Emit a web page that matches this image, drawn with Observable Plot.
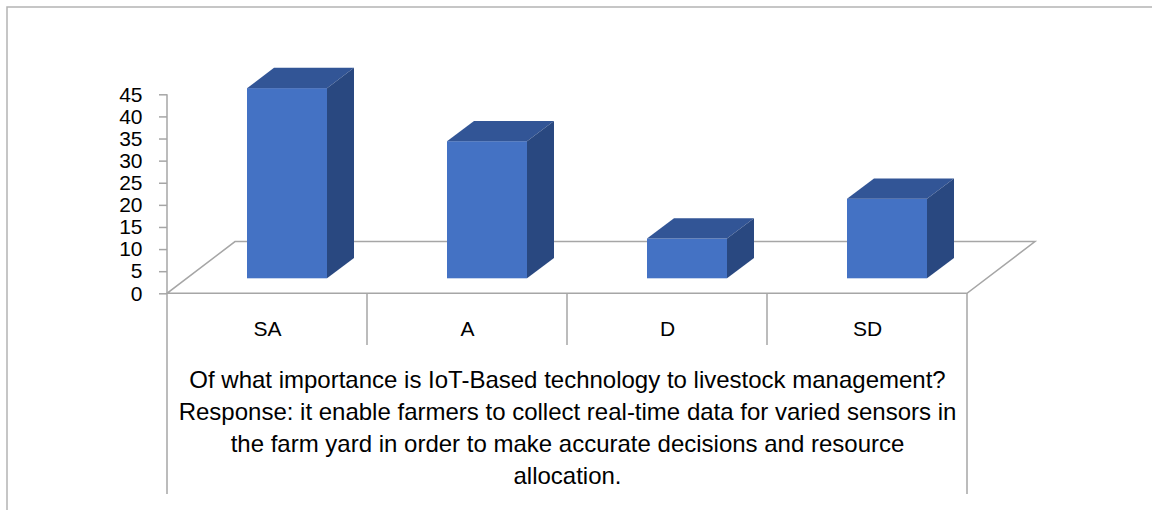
<!DOCTYPE html>
<html>
<head>
<meta charset="utf-8">
<script src="https://cdn.jsdelivr.net/npm/d3@7"></script>
<script src="https://cdn.jsdelivr.net/npm/@observablehq/plot@0.6"></script>
<style>
  html, body { margin: 0; padding: 0; background: #ffffff; }
  #chart svg { display: block; }
</style>
</head>
<body>
<div id="chart"></div>
<script>
// ---- data ----
const categories = ["SA", "A", "D", "SD"];
const values = [43, 31, 9, 18];
const yTicks = [0, 5, 10, 15, 20, 25, 30, 35, 40, 45];
const captionLines = [
  "Of what importance is IoT-Based technology to livestock management?",
  "Response: it enable farmers to collect real-time data for varied sensors in",
  "the farm yard in order to make accurate decisions and resource",
  "allocation."
];

const data = categories.map((c, i) => ({category: c, value: values[i]}));

// ---- styling / geometry constants ----
const FONT = "Liberation Sans, Arial, sans-serif";
const GRID = "#a6a6a6";
const FRONT = "#4472C4", TOP = "#325596", SIDE = "#294880";
const floorDX = 68, floorDY = -51.7;      // floor depth offset
const barShiftX = 20, barShiftY = -15;    // bar front position within floor depth
const barDX = 27, barDY = -20.3;          // bar depth
const inset = 60;

function bandOf(x) {
  return typeof x.bandwidth === "function" ? x.bandwidth() : (x(categories[1]) - x(categories[0]));
}

// background: outer border, floor, axis line, category separators
function background(index, scales) {
  const {x, y} = scales;
  const bw = bandOf(x);
  const left = x(categories[0]);
  const right = x(categories[categories.length - 1]) + bw;
  const y0 = y(0), yTop = y(45);
  const g = d3.create("svg:g").attr("fill", "none").attr("stroke", GRID).attr("stroke-width", 1.5);
  g.append("path").attr("d", `M7,510V7H1152`).attr("stroke", "#b4b4b4");
  g.append("path").attr("d",
    `M${left},${y0}L${right},${y0}L${right + floorDX},${y0 + floorDY}L${left + floorDX},${y0 + floorDY}Z`);
  g.append("path").attr("d", `M${left},${yTop}V${y0}`);
  // category separators
  categories.forEach((c, i) => {
    const xx = x(c);
    const bottom = i === 0 ? 494 : 345;
    g.append("path").attr("d", `M${xx},${y0}V${bottom}`);
  });
  g.append("path").attr("d", `M${right},${y0}V494`);
  return g.node();
}

// depth faces of the 3D columns (top and right side)
function depthFaces(index, scales) {
  const {x, y} = scales;
  const bw = bandOf(x);
  const g = d3.create("svg:g");
  for (const d of data) {
    const xl = x(d.category) + inset + barShiftX;
    const xr = x(d.category) + bw - inset + barShiftX;
    const yt = y(d.value) + barShiftY;
    const yb = y(0) + barShiftY;
    g.append("path").attr("fill", TOP)
      .attr("d", `M${xl},${yt}L${xr},${yt}L${xr + barDX},${yt + barDY}L${xl + barDX},${yt + barDY}Z`);
    g.append("path").attr("fill", SIDE)
      .attr("d", `M${xr},${yt}L${xr + barDX},${yt + barDY}L${xr + barDX},${yb + barDY}L${xr},${yb}Z`);
  }
  return g.node();
}

const chart = Plot.plot({
  width: 1152,
  height: 510,
  marginLeft: 167,
  marginRight: 185,
  marginTop: 94.3,
  marginBottom: 216.7,
  style: {fontFamily: FONT, background: "#ffffff", color: "#000000", overflow: "visible"},
  x: {domain: categories, range: [167, 967], padding: 0, axis: null},
  y: {domain: [0, 45], range: [293.3, 94.3]},
  marks: [
    background,
    Plot.axisY({
      ticks: yTicks,
      tickSize: 8,
      tickPadding: 17,
      fontSize: 21,
      stroke: GRID,
      strokeWidth: 1.5,
      fill: "#000000",
      label: null
    }),
    Plot.barY(data, {
      x: "category",
      y: "value",
      fill: FRONT,
      insetLeft: inset,
      insetRight: inset,
      dx: barShiftX,
      dy: barShiftY
    }),
    depthFaces,
    Plot.text(data, {
      x: "category",
      text: "category",
      frameAnchor: "bottom",
      lineAnchor: "top",
      dy: 27.5,
      fontSize: 21,
      fill: "#000000"
    }),
    Plot.text([captionLines.join("\n")], {
      text: d => d,
      frameAnchor: "bottom",
      lineAnchor: "top",
      dy: 71.3,
      fontSize: 24,
      lineHeight: 1.3333,
      fill: "#000000"
    })
  ]
});

document.getElementById("chart").append(chart);
</script>
</body>
</html>
